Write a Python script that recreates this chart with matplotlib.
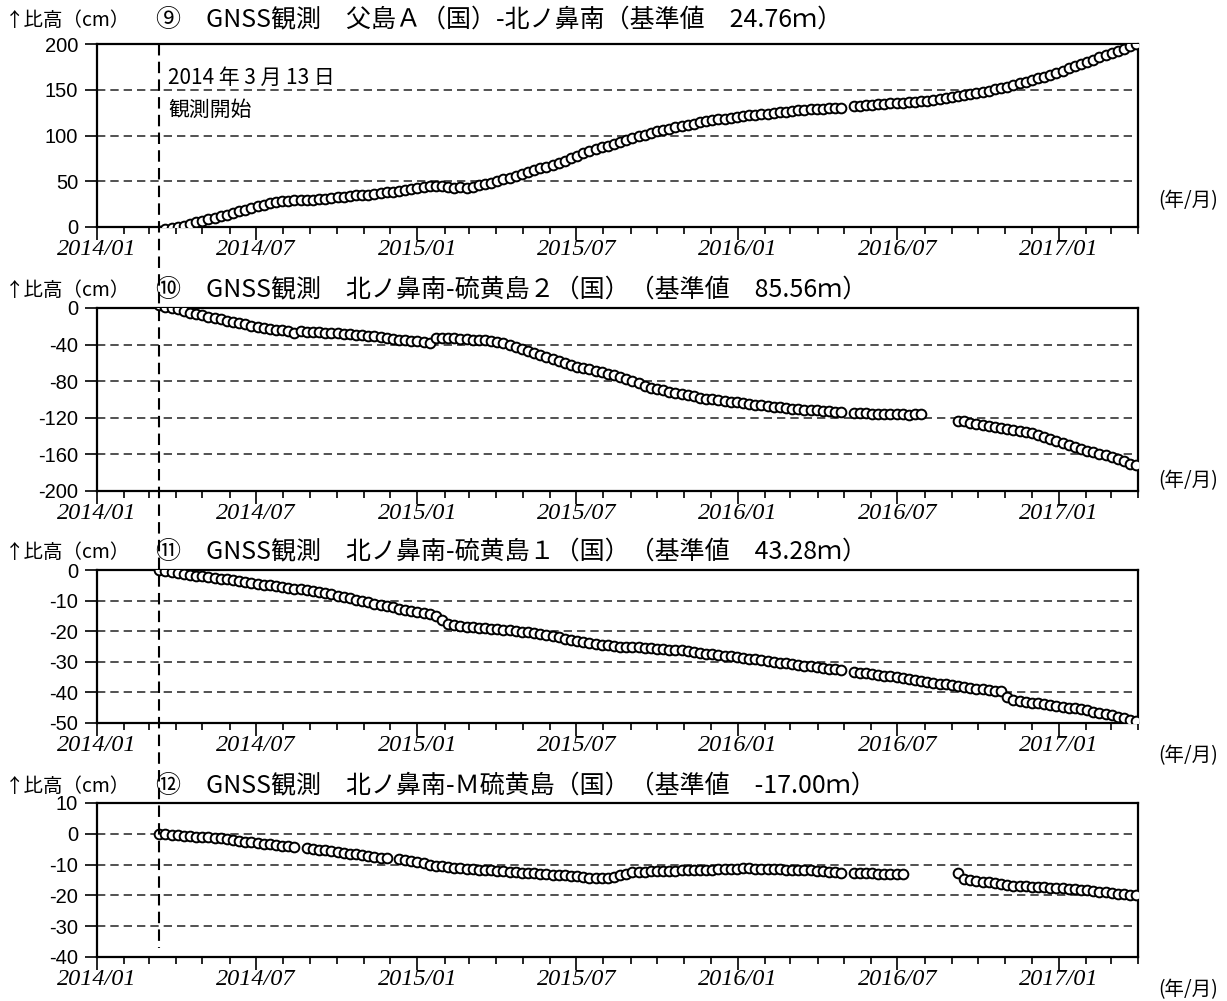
import numpy as np
import pandas as pd
import matplotlib
matplotlib.use("Agg")
import matplotlib.pyplot as plt
import matplotlib.dates as mdates
import matplotlib.transforms as mtransforms
from matplotlib.lines import Line2D

plt.rcParams["axes.unicode_minus"] = False
nan = np.nan

# weekly readings from the start of observation (2014-03-13)
obs_start = "2014-03-13"
obs_dates = pd.date_range(obs_start, periods=160, freq="7D")

# 9: 父島A(国)-北ノ鼻南
h9 = [-4, -2.5, -1, 0.5, 1.5, 3, 5, 7, 8.5, 10,
      12, 13.5, 15.5, 17.5, 19, 21, 23, 24.5, 26, 27,
      28, 28.5, 29.5, 29, 30, 30, 31, 30.5, 32, 32.5,
      33, 33.5, 34.5, 35, 35.5, 36, 37, 38, 38.5, 39.5,
      40, 41.5, 43, 44, 45, 45, 44.5, 44, 43, 43.5,
      43, 44, 45.5, 47, 48.5, 50, 52, 54, 56, 58,
      60, 62, 64, 66, 68, 70, 72.5, 75, 78, 80.5,
      83, 85, 87, 89, 91, 93, 95, 97, 99, 101,
      103, 104.5, 106, 107.5, 109, 110, 111.5, 113, 114.5, 116,
      117, 118, 118.5, 119.5, 120.5, 121, 122, 122.5, 123.5, 124,
      125, 125.5, 126, 127, 127.5, 128, 128.5, 129, 129.5, 130,
      130, 130.5, nan, 132, 132.5, 133, 133, 134, 134.5, 135,
      135, 135.5, 136.5, 137, 137.5, 138, 139, 140, 141, 142,
      143, 144, 145.5, 146.5, 148, 149, 150.5, 152, 153.5, 155.5,
      157, 158.5, 160.5, 162.5, 164, 166, 168, 171, 173.5, 176,
      178, 180.5, 183, 185.5, 188, 190, 192.5, 195, 197.5, 200]

# 10: 北ノ鼻南-硫黄島2(国)
h10 = [3, 1.5, 0, -1.5, -3.5, -5, -6.5, -8, -9.5, -11,
       -12.5, -14, -15.5, -16.5, -18, -19.5, -21, -22, -23, -23.5,
       -24, -25, -27, -25.5, -26, -26, -26.5, -27, -27.5, -27.5,
       -28, -28.5, -29.5, -30, -30.5, -31, -32, -33, -33.5, -34.5,
       -35, -36, -36.5, -37.5, -38, -33, -33, -32.5, -33, -33.5,
       -34, -34.5, -35, -35.5, -36, -37, -38.5, -40.5, -42.5, -45,
       -47, -49, -51.5, -53.5, -56, -58, -60, -62, -64, -65.5,
       -67, -68.5, -70, -72, -73.5, -75, -77.5, -80, -82.5, -85,
       -87, -88.5, -90, -91.5, -93, -94, -95.5, -96.5, -98, -99,
       -100, -101, -101.5, -102.5, -103, -104, -105, -105.5, -106.5, -107,
       -108, -108.5, -109, -110, -110.5, -111, -111.5, -112, -112.5, -113,
       -113.5, -114, nan, -114.5, -115, -115, -115.5, -115.5, -116, -115.5,
       -116, -116, -116.5, -116, -116, nan, nan, nan, nan, nan,
       -123, -124, -125.5, -126.5, -128, -129, -130, -131, -132, -133,
       -134, -135.5, -137, -139, -141, -143, -145, -147, -150, -152,
       -154, -156, -157.5, -159.5, -161, -163, -165, -167.5, -170, -172]

# 11: 北ノ鼻南-硫黄島1(国)
h11 = [0, -0.3, -0.6, -0.9, -1.2, -1.5, -1.8, -2.0, -2.3, -2.6,
       -2.8, -3.1, -3.4, -3.7, -3.9, -4.2, -4.5, -4.8, -5.0, -5.3,
       -5.5, -6.0, -6.3, -6.2, -6.6, -6.8, -7.2, -7.6, -8.0, -8.4,
       -8.8, -9.2, -9.7, -10.1, -10.6, -11, -11.4, -11.8, -12.2, -12.6,
       -13, -13.4, -13.8, -14.1, -14.5, -15, -16.2, -17.5, -18.0, -18.3,
       -18.5, -18.7, -18.9, -19.0, -19.2, -19.3, -19.5, -19.7, -19.9, -20.1,
       -20.3, -20.6, -21.0, -21.3, -21.6, -22, -22.4, -22.8, -23.1, -23.5,
       -23.8, -24.1, -24.4, -24.6, -24.8, -25, -25.1, -25.2, -25.3, -25.4,
       -25.5, -25.7, -25.8, -26.0, -26.1, -26.3, -26.5, -26.8, -27.0, -27.3,
       -27.5, -27.7, -28.0, -28.2, -28.5, -28.7, -29.0, -29.2, -29.5, -29.7,
       -30, -30.3, -30.5, -30.8, -31.0, -31.3, -31.5, -31.8, -32.0, -32.3,
       -32.5, -32.8, nan, -33.3, -33.5, -33.8, -34.0, -34.3, -34.5, -34.8,
       -35, -35.3, -35.6, -35.9, -36.2, -36.5, -36.8, -37.1, -37.4, -37.7,
       -38, -38.3, -38.5, -38.8, -39.0, -39.3, -39.5, -39.6, -41.5, -42.5,
       -42.8, -43.1, -43.4, -43.6, -43.9, -44.2, -44.4, -44.7, -45.0, -45.2,
       -45.5, -45.9, -46.3, -46.7, -47.1, -47.5, -48.0, -48.5, -49.0, -49.5]

# 12: 北ノ鼻南-M硫黄島(国)
h12 = [0, -0.2, -0.3, -0.5, -0.6, -0.8, -0.9, -1.1, -1.2, -1.4,
       -1.5, -1.7, -2.0, -2.2, -2.5, -2.7, -2.9, -3.2, -3.4, -3.6,
       -3.8, -4.0, -4.2, nan, -4.6, -4.8, -5.1, -5.4, -5.7, -5.9,
       -6.2, -6.5, -6.7, -7.0, -7.2, -7.5, -7.8, -8.0, nan, -8.3,
       -8.4, -8.7, -9.2, -9.6, -10.0, -10.3, -10.5, -10.8, -11.0, -11.2,
       -11.3, -11.5, -11.6, -11.8, -11.9, -12.0, -12.1, -12.3, -12.4, -12.6,
       -12.7, -12.8, -13.0, -13.1, -13.3, -13.4, -13.5, -13.7, -13.8, -14.0,
       -14.2, -14.3, -14.4, -14.4, -14.0, -13.5, -13.0, -12.5, -12.4, -12.3,
       -12.2, -12.1, -12.1, -12.0, -12.0, -11.9, -11.8, -11.8, -11.7, -11.7,
       -11.6, -11.5, -11.4, -11.3, -11.3, -11.2, -11.2, -11.3, -11.3, -11.4,
       -11.4, -11.5, -11.6, -11.6, -11.7, -11.8, -11.9, -12.0, -12.2, -12.3,
       -12.5, -12.6, nan, -12.7, -12.7, -12.8, -12.8, -12.9, -13.0, -13.0,
       -13.1, -13.1, nan, nan, nan, nan, nan, nan, nan, nan,
       -12.8, -14.6, -15.0, -15.2, -15.5, -15.8, -16.1, -16.4, -16.7, -16.9,
       -17.0, -17.1, -17.2, -17.3, -17.4, -17.5, -17.6, -17.7, -17.9, -18.0,
       -18.2, -18.4, -18.6, -18.8, -19.0, -19.2, -19.4, -19.6, -19.8, -20.0]

titles = ["⑨　GNSS観測　父島Ａ（国）-北ノ鼻南（基準値　24.76ｍ）",
          "⑩　GNSS観測　北ノ鼻南-硫黄島２（国）（基準値　85.56ｍ）",
          "⑪　GNSS観測　北ノ鼻南-硫黄島１（国）（基準値　43.28ｍ）",
          "⑫　GNSS観測　北ノ鼻南-Ｍ硫黄島（国）（基準値　-17.00ｍ）"]
series = [h9, h10, h11, h12]
ylims = [(0, 200), (-200, 0), (-50, 0), (-40, 10)]
ysteps = [50, 40, 10, 10]

W, H = 1227, 1001
fig = plt.figure(figsize=(W / 100, H / 100), dpi=100)
cjk = ["Noto Sans CJK JP", "DejaVu Sans"]

# panel boxes in pixels: top, bottom
boxes = [(44, 227), (308, 491), (570, 723), (803, 957)]
left_px, right_px = 97, 1138
label_rows = [20, 290, 552, 786]
unit_rows = [201, 481, 756, 990]

axes = []
for k, (top, bot) in enumerate(boxes):
    ax = fig.add_axes([left_px / W, 1 - bot / H, (right_px - left_px) / W, (bot - top) / H])
    axes.append(ax)
    ax.plot(obs_dates, series[k], "o", ms=7, mfc="white", mec="black", mew=1.4, zorder=3)
    ax.set_xlim(pd.Timestamp("2014-01-01"), pd.Timestamp("2017-04-01"))
    lo, hi = ylims[k]
    ax.set_ylim(lo, hi)
    ticks = np.arange(lo, hi + 0.1, ysteps[k])
    ax.set_yticks(ticks)
    for t in ticks[1:-1]:
        ax.axhline(t, color="#333333", lw=1.2, ls=(0, (5, 3)), zorder=1)
    ax.xaxis.set_major_locator(mdates.MonthLocator(bymonth=[1, 7]))
    ax.xaxis.set_minor_locator(mdates.MonthLocator())
    ax.xaxis.set_major_formatter(mdates.DateFormatter("%Y/%m"))
    ax.tick_params(axis="x", which="major", length=9.5, width=1.2, pad=-1, direction="out")
    ax.tick_params(axis="x", which="minor", length=5, width=1.2, direction="out")
    ax.tick_params(axis="y", length=8.6, width=1.2, pad=5, direction="out")
    for lab in ax.get_xticklabels():
        lab.set_fontfamily("Liberation Serif")
        lab.set_fontstyle("italic")
        lab.set_fontsize(17.5)
    for lab in ax.get_yticklabels():
        lab.set_fontfamily("Liberation Sans")
        lab.set_fontsize(14.5)
    for sp in ax.spines.values():
        sp.set_linewidth(1.6)
    fig.text(5 / W, 1 - label_rows[k] / H, "↑比高（cm）", family=cjk, fontsize=14, va="center", ha="left")
    fig.text(156 / W, 1 - label_rows[k] / H, titles[k], family=cjk, fontsize=18, va="center", ha="left")
    fig.text(1158 / W, 1 - unit_rows[k] / H, "(年/月)", family=cjk, fontsize=14, va="center", ha="left")

# start of observation marker across all panels
start = mdates.date2num(pd.Timestamp(obs_start))
trans = mtransforms.blended_transform_factory(axes[0].transData, fig.transFigure)
fig.add_artist(Line2D([start, start], [1 - 44 / H, 1 - 948 / H], transform=trans,
                      color="black", lw=1.5, ls=(0, (5.5, 3))))
axes[0].text(pd.Timestamp("2014-03-23"), 163, "2014 年 3 月 13 日", family=cjk, fontsize=15,
             va="center", ha="left")
axes[0].text(pd.Timestamp("2014-03-23"), 128, "観測開始", family=cjk, fontsize=15,
             va="center", ha="left")

fig.savefig("out.png", dpi=100)
